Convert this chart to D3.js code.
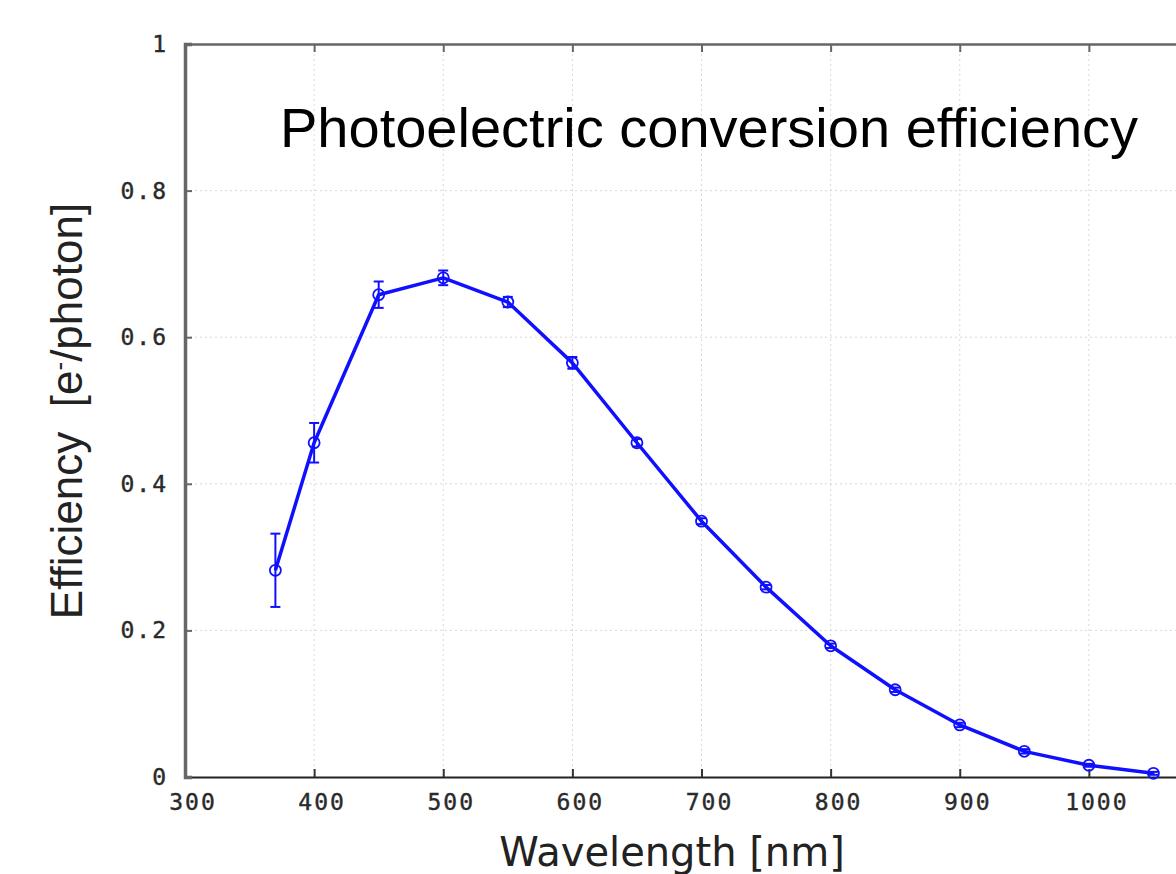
<!DOCTYPE html>
<html>
<head>
<meta charset="utf-8">
<script src="https://cdn.jsdelivr.net/npm/d3@7"></script>
<style>
  body { margin: 0; background: #fff; }
</style>
</head>
<body>
<div id="chart"></div>
<script>
const width = 1176, height = 874,
margin = ({ top: 44, right: -42, bottom: 97, left: 185 });

// wavelength (nm), efficiency (e-/photon), error (+/-)
const wavelengths = [370, 400, 450, 500, 550, 600, 650, 700, 750, 800, 850, 900, 950, 1000, 1050];
const efficiency  = [0.282, 0.456, 0.658, 0.681, 0.648, 0.565, 0.456, 0.349, 0.259, 0.179, 0.119, 0.071, 0.035, 0.016, 0.005];
const errors      = [0.050, 0.027, 0.018, 0.010, 0.007, 0.008, 0.005, 0.004, 0.003, 0.003, 0.003, 0.003, 0.003, 0.002, 0.002];

const xTicks = [300, 400, 500, 600, 700, 800, 900, 1000, 1100];
const yTicks = [0, 0.2, 0.4, 0.6, 0.8, 1];
const yTickLabels = ["0", "0.2", "0.4", "0.6", "0.8", "1"];

const data = wavelengths.map((w, i) => ({ w: w, e: efficiency[i], err: errors[i] }));

const svg = d3.select("#chart")
    .append("svg")
    .attr("width", width)
    .attr("height", height);

let x = d3.scaleLinear()
    .domain([300, 1100])
    .range([margin.left, width - margin.right]);

let y = d3.scaleLinear()
    .domain([0, 1])
    .range([height - margin.bottom, margin.top]);

// dotted grid
svg.append("g")
    .selectAll("line")
    .data(xTicks.filter(d => d > 300))
    .join("line")
    .attr("x1", d => x(d)).attr("x2", d => x(d))
    .attr("y1", y(1)).attr("y2", y(0))
    .attr("stroke", "#d8d8d8")
    .attr("stroke-width", 1)
    .attr("stroke-dasharray", "2,3");

svg.append("g")
    .selectAll("line")
    .data(yTicks.filter(d => d > 0 && d < 1))
    .join("line")
    .attr("x1", x(300)).attr("x2", x(1100))
    .attr("y1", d => y(d)).attr("y2", d => y(d))
    .attr("stroke", "#d8d8d8")
    .attr("stroke-width", 1)
    .attr("stroke-dasharray", "2,3");

// axes (ticks pointing inward)
const tickFont = "'DejaVu Sans Mono', monospace";

const xAxis = svg.append("g")
    .attr("transform", `translate(0,${y(0)})`)
    .call(d3.axisTop(x).tickValues(xTicks).tickSize(8).tickFormat(""));
xAxis.select(".domain").attr("stroke", "#222").attr("stroke-width", 2);
xAxis.selectAll(".tick line").attr("stroke", "#333").attr("stroke-width", 2);

const xTop = svg.append("g")
    .attr("transform", `translate(0,${y(1)})`)
    .call(d3.axisBottom(x).tickValues(xTicks).tickSize(8).tickFormat(""));
xTop.select(".domain").attr("stroke", "#666").attr("stroke-width", 2.5);
xTop.selectAll(".tick line").attr("stroke", "#666").attr("stroke-width", 2);

const yAxis = svg.append("g")
    .attr("transform", `translate(${x(300)},0)`)
    .call(d3.axisRight(y).tickValues(yTicks).tickSize(7).tickFormat(""));
yAxis.select(".domain").attr("stroke", "#666").attr("stroke-width", 3.5);
yAxis.selectAll(".tick line").attr("stroke", "#666").attr("stroke-width", 2);

// tick labels
svg.append("g")
    .selectAll("text")
    .data(xTicks.filter(d => d < 1100))
    .join("text")
    .attr("x", d => x(d) + 8)
    .attr("y", y(0) + 33)
    .attr("text-anchor", "middle")
    .style("font-family", tickFont)
    .style("font-size", "23px")
    .style("letter-spacing", "2px")
    .attr("fill", "#2a2a2a")
    .attr("stroke", "#2a2a2a")
    .attr("stroke-width", 0.4)
    .text(d => d);

svg.append("g")
    .selectAll("text")
    .data(yTicks)
    .join("text")
    .attr("x", 168)
    .attr("y", d => y(d) + 8)
    .attr("text-anchor", "end")
    .style("font-family", tickFont)
    .style("font-size", "23px")
    .style("letter-spacing", "2px")
    .attr("fill", "#2a2a2a")
    .attr("stroke", "#2a2a2a")
    .attr("stroke-width", 0.4)
    .text((d, i) => yTickLabels[i]);

// axis titles
svg.append("text")
    .attr("x", 672)
    .attr("y", 866)
    .attr("text-anchor", "middle")
    .style("font-family", "'DejaVu Sans', sans-serif")
    .style("font-size", "40px")
    .attr("fill", "#222")
    .text("Wavelength [nm]");

const yTitle = svg.append("text")
    .attr("transform", `translate(82,411) rotate(-90)`)
    .attr("text-anchor", "middle")
    .style("font-family", "'Liberation Sans', Arial, sans-serif")
    .style("font-size", "44px")
    .style("white-space", "pre")
    .attr("fill", "#222");
yTitle.append("tspan").text("Efficiency  [e");
yTitle.append("tspan").attr("dy", -14).style("font-size", "26px").text("-");
yTitle.append("tspan").attr("dy", 14).text("/photon]");

// chart title
svg.append("text")
    .attr("x", 280)
    .attr("y", 147)
    .style("font-family", "'Liberation Sans', Arial, sans-serif")
    .style("font-size", "56px")
    .attr("fill", "#000")
    .text("Photoelectric conversion efficiency");

// data line
const blue = "#1010ff";
const line = d3.line()
    .x(d => x(d.w))
    .y(d => y(d.e));

svg.append("path")
    .datum(data)
    .attr("fill", "none")
    .attr("stroke", blue)
    .attr("stroke-width", 3.5)
    .attr("stroke-linejoin", "round")
    .attr("d", line);

let pt = svg.selectAll(".pt")
    .data(data)
    .join("g")
    .attr("class", "pt");

pt.append("line")
    .attr("x1", d => x(d.w)).attr("x2", d => x(d.w))
    .attr("y1", d => y(d.e - d.err)).attr("y2", d => y(d.e + d.err))
    .attr("stroke", blue).attr("stroke-width", 2);

pt.append("line")
    .attr("x1", d => x(d.w) - 5).attr("x2", d => x(d.w) + 5)
    .attr("y1", d => y(d.e + d.err)).attr("y2", d => y(d.e + d.err))
    .attr("stroke", blue).attr("stroke-width", 2);

pt.append("line")
    .attr("x1", d => x(d.w) - 5).attr("x2", d => x(d.w) + 5)
    .attr("y1", d => y(d.e - d.err)).attr("y2", d => y(d.e - d.err))
    .attr("stroke", blue).attr("stroke-width", 2);

pt.append("circle")
    .attr("cx", d => x(d.w))
    .attr("cy", d => y(d.e))
    .attr("r", 5.5)
    .attr("fill", "none")
    .attr("stroke", blue)
    .attr("stroke-width", 1.8);
</script>
</body>
</html>
